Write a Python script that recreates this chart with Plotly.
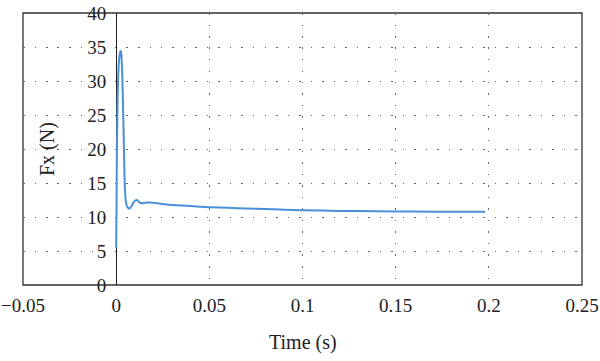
import plotly.graph_objects as go

time_s = [0.0, 0.0002, 0.0004, 0.0007, 0.001, 0.0014, 0.0018, 0.0022, 0.0025, 0.0028,
          0.0032, 0.0035, 0.0038, 0.0041, 0.0044, 0.0047, 0.0052, 0.0058, 0.0065, 0.0072,
          0.0078, 0.0086, 0.0095, 0.0103, 0.011, 0.0118, 0.0125, 0.0132, 0.0139, 0.015,
          0.016, 0.0171, 0.0185, 0.02, 0.025, 0.03, 0.04, 0.05, 0.06, 0.07, 0.08, 0.09,
          0.1, 0.12, 0.14, 0.16, 0.18, 0.198]
fx_n = [5.4, 12.0, 20.0, 26.0, 30.0, 32.5, 33.7, 34.3, 34.4, 33.8,
        31.5, 28.5, 25.0, 21.0, 17.0, 14.2, 12.3, 11.6, 11.3, 11.25,
        11.4, 11.8, 12.2, 12.45, 12.5, 12.35, 12.15, 12.05, 12.0, 12.05,
        12.12, 12.15, 12.12, 12.08, 11.9, 11.78, 11.6, 11.45, 11.35, 11.25, 11.17, 11.08,
        11.0, 10.9, 10.84, 10.8, 10.78, 10.78]

x_ticks = [-0.05, 0, 0.05, 0.1, 0.15, 0.2, 0.25]
x_labels = ["\u22120.05", "0", "0.05", "0.1", "0.15", "0.2", "0.25"]
y_ticks = [0, 5, 10, 15, 20, 25, 30, 35, 40]

FONT = "Liberation Serif"

fig = go.Figure()
fig.add_trace(go.Scatter(x=time_s, y=fx_n, mode="lines",
                         line=dict(color="#4a90d9", width=2, shape="spline", smoothing=0.6),
                         showlegend=False))

x_min, x_max = -0.05, 0.25
fig.update_layout(
    width=600, height=361,
    margin=dict(l=23, r=18, t=13, b=76, autoexpand=False),
    paper_bgcolor="white", plot_bgcolor="white",
    font=dict(family=FONT, size=19, color="#222"),
    xaxis=dict(range=[x_min, x_max], tickvals=x_ticks, ticktext=x_labels,
               automargin=False, layer="below traces",
               showgrid=True, gridcolor="#666", griddash="1.5px,10px", gridwidth=1,
               zeroline=False, showline=False, ticks="", ticklabelstandoff=7),
    yaxis=dict(range=[0, 40], tickvals=y_ticks, anchor="free",
               position=(0 - x_min) / (x_max - x_min), automargin=False,
               layer="below traces",
               showgrid=True, gridcolor="#666", griddash="1.5px,10px", gridwidth=1,
               zeroline=False, showline=True, linecolor="#222", linewidth=1.2,
               ticks="", ticklabelstandoff=6),
    shapes=[dict(type="rect", xref="paper", yref="paper", x0=0, y0=0, x1=1, y1=1,
                 line=dict(color="#333", width=1.3), layer="below")],
    annotations=[
        dict(text="Time (s)", xref="paper", yref="paper", x=0.5, y=-0.213,
             xanchor="center", yanchor="middle", showarrow=False,
             font=dict(family=FONT, size=20, color="#222")),
        dict(text="Fx (N)", xref="paper", yref="paper", x=(47 - 23) / 559, y=0.5,
             xanchor="center", yanchor="middle", textangle=-90, showarrow=False,
             font=dict(family=FONT, size=20, color="#222")),
    ],
)

fig.write_html("out.html")
